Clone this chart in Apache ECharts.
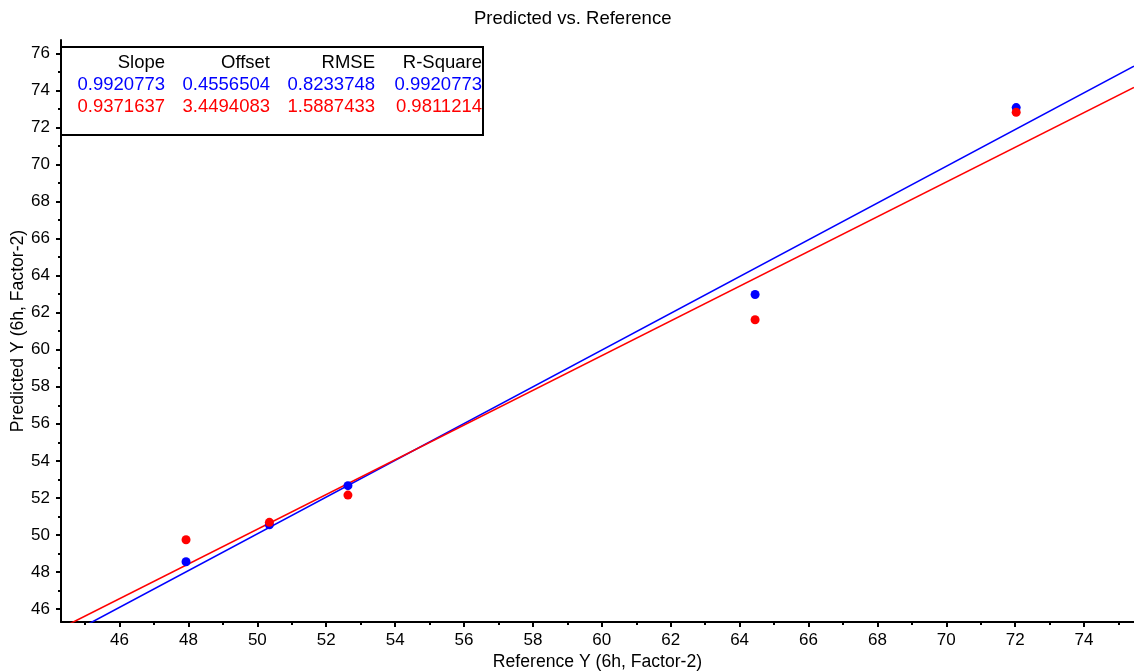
<!DOCTYPE html>
<html>
<head>
<meta charset="utf-8">
<script src="https://cdn.jsdelivr.net/npm/echarts@6/dist/echarts.min.js"></script>
<style>
html,body{margin:0;padding:0;background:#fff;}
#chart{width:1134px;height:672px;}
</style>
</head>
<body>
<div id="chart"></div>
<script>
// ---- data ----
const titleText = 'Predicted vs. Reference';
const xName = 'Reference Y (6h, Factor-2)';
const yName = 'Predicted Y (6h, Factor-2)';
const referenceY = [47.93, 50.35, 52.63, 64.45, 72.03];
const predictedBlue = [48.55, 50.55, 52.66, 62.98, 73.07];
const predictedRed = [49.74, 50.68, 52.15, 61.62, 72.82];
const statHeaders = ['Slope', 'Offset', 'RMSE', 'R-Square'];
const statsBlue = ['0.9920773', '0.4556504', '0.8233748', '0.9920773'];
const statsRed = ['0.9371637', '3.4494083', '1.5887433', '0.9811214'];
const xMajorTicks = [46, 48, 50, 52, 54, 56, 58, 60, 62, 64, 66, 68, 70, 72, 74];
const xMinorTicks = [45, 47, 49, 51, 53, 55, 57, 59, 61, 63, 65, 67, 69, 71, 73, 75];
const yMajorTicks = [46, 48, 50, 52, 54, 56, 58, 60, 62, 64, 66, 68, 70, 72, 74, 76];
const yMinorTicks = [47, 49, 51, 53, 55, 57, 59, 61, 63, 65, 67, 69, 71, 73, 75];

// ---- layout ----
const X_MIN = 44.3, X_MAX = 75.45, Y_MIN = 45.3, Y_MAX = 76.72;
const FONT = '"Liberation Sans", Arial, sans-serif';
const BLUE = '#0000ff', RED = '#ff0000';

function fitLine(stats) {
  const s = parseFloat(stats[0]), o = parseFloat(stats[1]);
  return [[X_MIN, s * X_MIN + o], [X_MAX, s * X_MAX + o]];
}
function pairs(xs, ys) { return xs.map((x, i) => [x, ys[i]]); }

const chart = echarts.init(document.getElementById('chart'), null, {renderer: 'canvas'});

const axisLineStyle = {show: true, lineStyle: {color: '#000', width: 2}};
const labelStyle = {color: '#000', fontSize: 17, fontFamily: FONT};
const nameStyle = {color: '#000', fontSize: 17.6, fontFamily: FONT};

// table graphic
const colRight = [165, 270, 375, 482];
const rowY = [63, 85, 107];
const tableChildren = [{
  type: 'rect', shape: {x: 61, y: 47, width: 422, height: 88},
  style: {fill: '#fff', stroke: '#000', lineWidth: 2}
}];
[[statHeaders, '#000'], [statsBlue, BLUE], [statsRed, RED]].forEach(([row, color], r) => {
  row.forEach((t, c) => {
    tableChildren.push({
      type: 'text', x: colRight[c], y: rowY[r],
      style: {text: t, fill: color, font: '18.5px ' + FONT, align: 'right', verticalAlign: 'middle'}
    });
  });
});

chart.setOption({
  animation: false,
  backgroundColor: '#fff',
  title: {
    text: titleText, left: 469, top: 4,
    textStyle: {color: '#000', fontSize: 18.5, fontWeight: 'normal', fontFamily: FONT}
  },
  grid: {left: 61, top: 40, right: 0, bottom: 50, containLabel: false, outerBoundsMode: 'none'},
  xAxis: [{
    type: 'value', min: X_MIN, max: X_MAX,
    name: xName, nameLocation: 'middle', nameGap: 31, nameMoveOverlap: false,
    nameTextStyle: nameStyle,
    axisLine: axisLineStyle,
    axisTick: {show: true, customValues: xMajorTicks, length: 5, lineStyle: {color: '#000', width: 2}},
    axisLabel: {customValues: xMajorTicks, margin: 10, ...labelStyle},
    splitLine: {show: false}
  }, {
    type: 'value', min: X_MIN, max: X_MAX, position: 'bottom',
    axisLine: {show: false},
    axisTick: {show: true, customValues: xMinorTicks, length: 3, lineStyle: {color: '#000', width: 2}},
    axisLabel: {show: false},
    splitLine: {show: false}
  }],
  yAxis: [{
    type: 'value', min: Y_MIN, max: Y_MAX,
    name: yName, nameLocation: 'middle', nameGap: 34, nameRotate: 90, nameMoveOverlap: false,
    nameTextStyle: nameStyle,
    axisLine: axisLineStyle,
    axisTick: {show: true, customValues: yMajorTicks, length: 5, lineStyle: {color: '#000', width: 2}},
    axisLabel: {customValues: yMajorTicks, margin: 11, ...labelStyle},
    splitLine: {show: false}
  }, {
    type: 'value', min: Y_MIN, max: Y_MAX, position: 'left',
    axisLine: {show: false},
    axisTick: {show: true, customValues: yMinorTicks, length: 3, lineStyle: {color: '#000', width: 2}},
    axisLabel: {show: false},
    splitLine: {show: false}
  }],
  series: [{
    type: 'line', data: fitLine(statsBlue), symbol: 'none', clip: true,
    lineStyle: {color: BLUE, width: 1.6}, z: 2
  }, {
    type: 'line', data: fitLine(statsRed), symbol: 'none', clip: true,
    lineStyle: {color: RED, width: 1.6}, z: 2
  }, {
    type: 'scatter', data: pairs(referenceY, predictedBlue), symbolSize: 9,
    itemStyle: {color: BLUE, opacity: 1}, z: 3
  }, {
    type: 'scatter', data: pairs(referenceY, predictedRed), symbolSize: 9,
    itemStyle: {color: RED, opacity: 1}, z: 4
  }],
  graphic: [{type: 'group', z: 100, children: tableChildren}]
});
</script>
</body>
</html>
